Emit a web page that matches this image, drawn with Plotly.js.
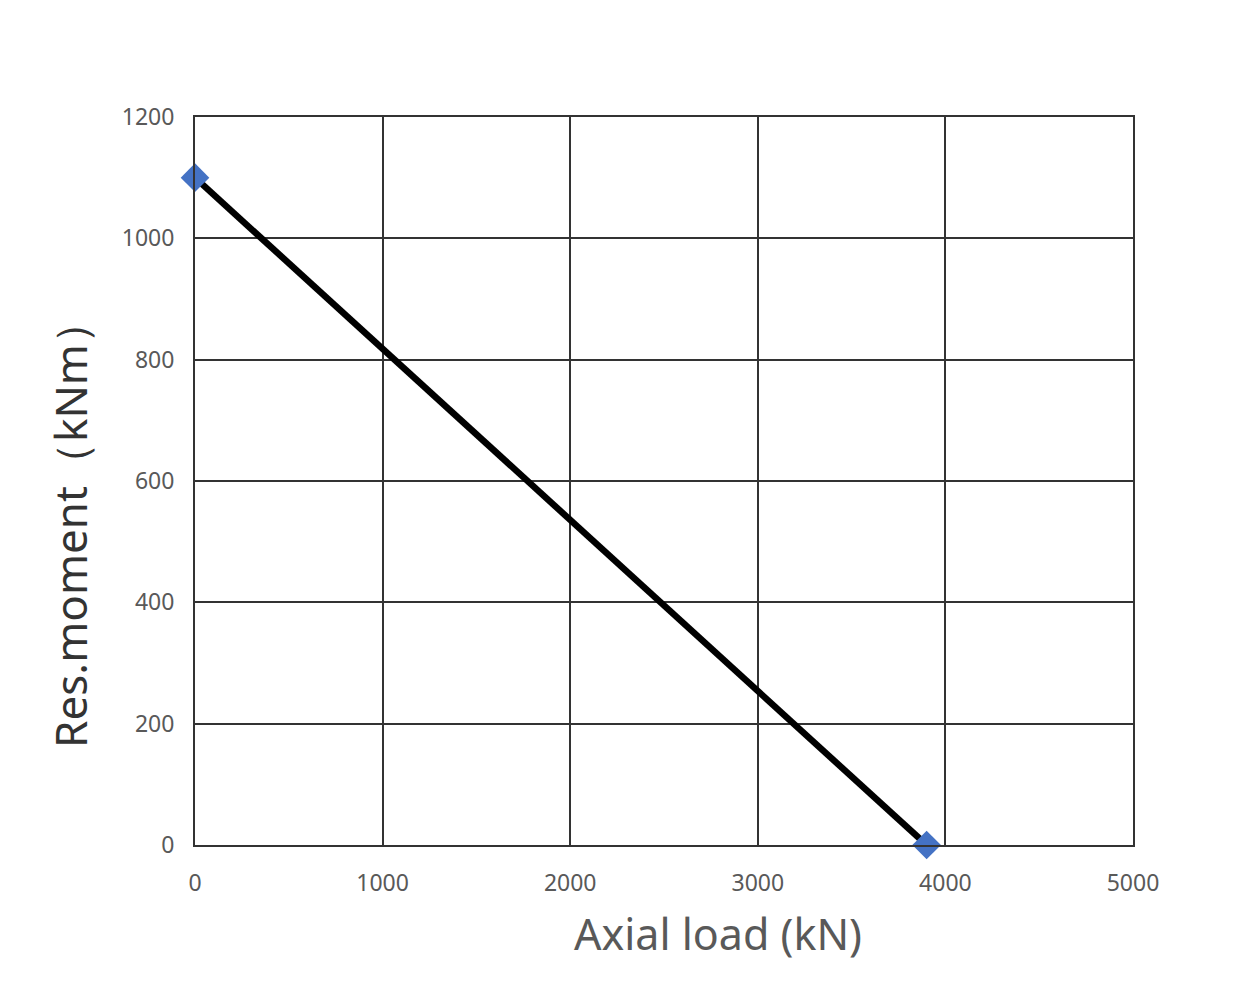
<!DOCTYPE html>
<html>
<head>
<meta charset="utf-8">
<script src="https://cdn.plot.ly/plotly-3.0.1.min.js"></script>
<style>html,body{margin:0;padding:0;background:#fff;}#chart{width:1260px;height:990px;}</style>
</head>
<body>
<div id="chart"></div>
<script>
const axialLoad = [0, 3900];
const resMoment = [1100, 0];
const xTicks = [0, 1000, 2000, 3000, 4000, 5000];
const yTicks = [0, 200, 400, 600, 800, 1000, 1200];
const xTitle = 'Axial load (kN)';
const yTitle = 'Res.moment（kNm）';

const traces = [
  {
    x: axialLoad, y: resMoment, type: 'scatter', mode: 'lines',
    line: {color: '#000000', width: 6.5}, hoverinfo: 'skip', showlegend: false
  },
  {
    x: axialLoad, y: resMoment, type: 'scatter', mode: 'markers',
    marker: {symbol: 'diamond', size: 22, color: '#4472C4'}, showlegend: false,
    cliponaxis: false
  }
];

const layout = {
  width: 1260, height: 990,
  margin: {l: 195, r: 127, t: 117, b: 145},
  paper_bgcolor: '#ffffff', plot_bgcolor: '#ffffff',
  font: {family: 'Noto Sans, Open Sans, sans-serif', color: '#595959'},
  showlegend: false,
  xaxis: {
    range: [0, 5000], tickvals: xTicks, ticktext: xTicks.map(String),
    showgrid: true, gridcolor: '#333333', gridwidth: 2,
    showline: true, linecolor: '#333333', linewidth: 2, mirror: true,
    zeroline: false, ticks: 'outside', ticklen: 16, tickcolor: 'rgba(0,0,0,0)',
    tickfont: {size: 23, color: '#595959'}
  },
  yaxis: {
    range: [0, 1200], tickvals: yTicks, ticktext: yTicks.map(String),
    showgrid: true, gridcolor: '#333333', gridwidth: 2,
    showline: true, linecolor: '#333333', linewidth: 2, mirror: true,
    zeroline: false, ticks: 'outside', ticklen: 14, tickcolor: 'rgba(0,0,0,0)',
    tickfont: {size: 23, color: '#595959'}
  },
  annotations: [
    {
      text: xTitle, xref: 'paper', yref: 'paper', x: 0.5576, y: -0.1209,
      xanchor: 'center', yanchor: 'middle', showarrow: false,
      font: {size: 43, color: '#595959'}
    },
    {
      text: yTitle, xref: 'paper', yref: 'paper', x: -0.1333, y: 0.441,
      xanchor: 'center', yanchor: 'middle', showarrow: false, textangle: -90,
      font: {size: 44, color: '#333333'}
    }
  ]
};

Plotly.newPlot('chart', traces, layout, {displayModeBar: false, staticPlot: true});
</script>
</body>
</html>
